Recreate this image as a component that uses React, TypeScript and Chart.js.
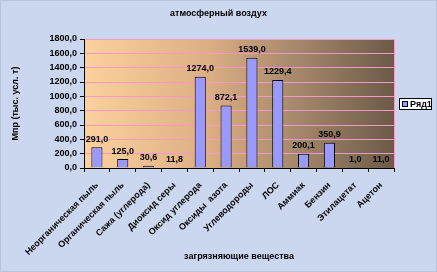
import React, { useEffect, useRef } from 'react';
import { Chart, registerables } from 'chart.js';

Chart.register(...registerables);

const categories = [
  'Неорганическая пыль',
  'Органическая пыль',
  'Сажа (углерода)',
  'Диоксид серы',
  'Оксид углерода',
  'Оксиды  азота',
  'Углеводороды',
  'ЛОС',
  'Аммиак',
  'Бензин',
  'Этилацетат',
  'Ацетон',
];
const values = [291.0, 125.0, 30.6, 11.8, 1274.0, 872.1, 1539.0, 1229.4, 200.1, 350.9, 1.0, 11.0];
const seriesName = 'Ряд1';
const chartTitle = 'атмосферный воздух';
const yAxisTitle = 'Мпр (тыс. усл. т)';
const xAxisTitle = 'загрязняющие вещества';
const yMin = 0;
const yMax = 1800;
const yStep = 200;

const FONT_FAMILY = '"Liberation Sans", Arial, sans-serif';
const fmt = (v: number) => Number(v).toFixed(1).replace('.', ',');

const W = 437;
const H = 272;

const decorPlugin = {
  id: 'decor',
  beforeDraw(chart: any) {
    const { ctx, chartArea } = chart;
    ctx.save();
    ctx.fillStyle = '#cbd7ef';
    ctx.fillRect(0, 0, W, H);
    ctx.strokeStyle = '#b8c4dc';
    ctx.lineWidth = 1;
    ctx.strokeRect(0.5, 0.5, W - 1, H - 1);
    const g = ctx.createLinearGradient(chartArea.left, 0, chartArea.right, 0);
    g.addColorStop(0, '#fdd19e');
    g.addColorStop(0.4, '#dcae84');
    g.addColorStop(0.7, '#a3866a');
    g.addColorStop(1, '#6c5a47');
    ctx.fillStyle = g;
    ctx.fillRect(chartArea.left, chartArea.top, chartArea.right - chartArea.left, chartArea.bottom - chartArea.top);
    ctx.restore();
  },
  afterDatasetsDraw(chart: any) {
    const { ctx, chartArea } = chart;
    ctx.save();
    // right border of plot area
    ctx.strokeStyle = '#f39ac8';
    ctx.lineWidth = 1;
    ctx.beginPath();
    ctx.moveTo(Math.round(chartArea.right) + 0.5, chartArea.top);
    ctx.lineTo(Math.round(chartArea.right) + 0.5, chartArea.bottom);
    ctx.stroke();
    // data labels
    ctx.fillStyle = '#000';
    ctx.font = `bold 9px ${FONT_FAMILY}`;
    ctx.textAlign = 'center';
    ctx.textBaseline = 'middle';
    const meta = chart.getDatasetMeta(0);
    meta.data.forEach((bar: any, i: number) => {
      ctx.fillText(fmt(values[i]), bar.x, bar.y - 8);
    });
    ctx.restore();
  },
  afterDraw(chart: any) {
    const { ctx } = chart;
    ctx.save();
    // title
    ctx.fillStyle = '#000';
    ctx.font = `bold 9px ${FONT_FAMILY}`;
    ctx.textAlign = 'center';
    ctx.textBaseline = 'middle';
    ctx.fillText(chartTitle, W / 2, 14);
    // legend
    const lx = 399, ly = 98, lw = 33, lh = 12;
    ctx.fillStyle = '#fff';
    ctx.fillRect(lx, ly, lw, lh);
    ctx.strokeStyle = '#000';
    ctx.lineWidth = 1;
    ctx.strokeRect(lx + 0.5, ly + 0.5, lw - 1, lh - 1);
    ctx.fillStyle = '#9999ff';
    ctx.fillRect(lx + 3, ly + 3, 6, 6);
    ctx.strokeRect(lx + 3.5, ly + 3.5, 5, 5);
    ctx.fillStyle = '#000';
    ctx.textAlign = 'left';
    ctx.fillText(seriesName, lx + 11, ly + lh / 2 + 0.5);
    ctx.restore();
  },
};

export default function App() {
  const ref = useRef<HTMLCanvasElement | null>(null);

  useEffect(() => {
    if (!ref.current) return;
    const font = { family: FONT_FAMILY, size: 9, weight: 'bold' as const };
    const chart = new Chart(ref.current, {
      type: 'bar',
      data: {
        labels: categories,
        datasets: [
          {
            label: seriesName,
            data: values,
            backgroundColor: '#9999ff',
            borderColor: '#000000',
            borderWidth: 1,
            barPercentage: 0.43,
            categoryPercentage: 1,
          },
        ],
      },
      options: {
        responsive: false,
        animation: false,
        devicePixelRatio: 1,
        layout: { padding: { left: 6, right: 43, top: 39, bottom: 5 } },
        plugins: {
          legend: { display: false },
          title: { display: false },
          tooltip: { enabled: false },
        },
        scales: {
          x: {
            offset: true,
            grid: {
              offset: true,
              drawOnChartArea: false,
              drawTicks: true,
              tickLength: 4,
              tickColor: '#000',
            },
            border: { display: true, color: '#000', width: 1 },
            ticks: {
              autoSkip: false,
              maxRotation: 45,
              minRotation: 45,
              padding: 8,
              color: '#000',
              font,
            },
            title: {
              display: true,
              text: xAxisTitle,
              color: '#000',
              font,
              padding: { top: 0, bottom: 5 },
            },
            afterFit: (s: any) => {
              s.height = 99;
            },
          },
          y: {
            min: yMin,
            max: yMax,
            ticks: {
              stepSize: yStep,
              padding: 3,
              color: '#000',
              font,
              callback: (v: any) => fmt(v),
            },
            grid: {
              color: '#f39ac8',
              tickColor: '#000',
              tickLength: 4,
              drawTicks: true,
            },
            border: { display: true, color: '#000', width: 1 },
            title: {
              display: true,
              text: yAxisTitle,
              color: '#000',
              font,
              padding: { top: 4, bottom: 0 },
            },
            afterFit: (s: any) => {
              s.width = 78;
            },
          },
        },
      },
      plugins: [decorPlugin],
    });
    return () => chart.destroy();
  }, []);

  return (
    <div style={{ position: 'fixed', left: 0, top: 0, width: W, height: H }}>
      <canvas ref={ref} width={W} height={H} style={{ width: W, height: H, display: 'block' }} />
    </div>
  );
}
